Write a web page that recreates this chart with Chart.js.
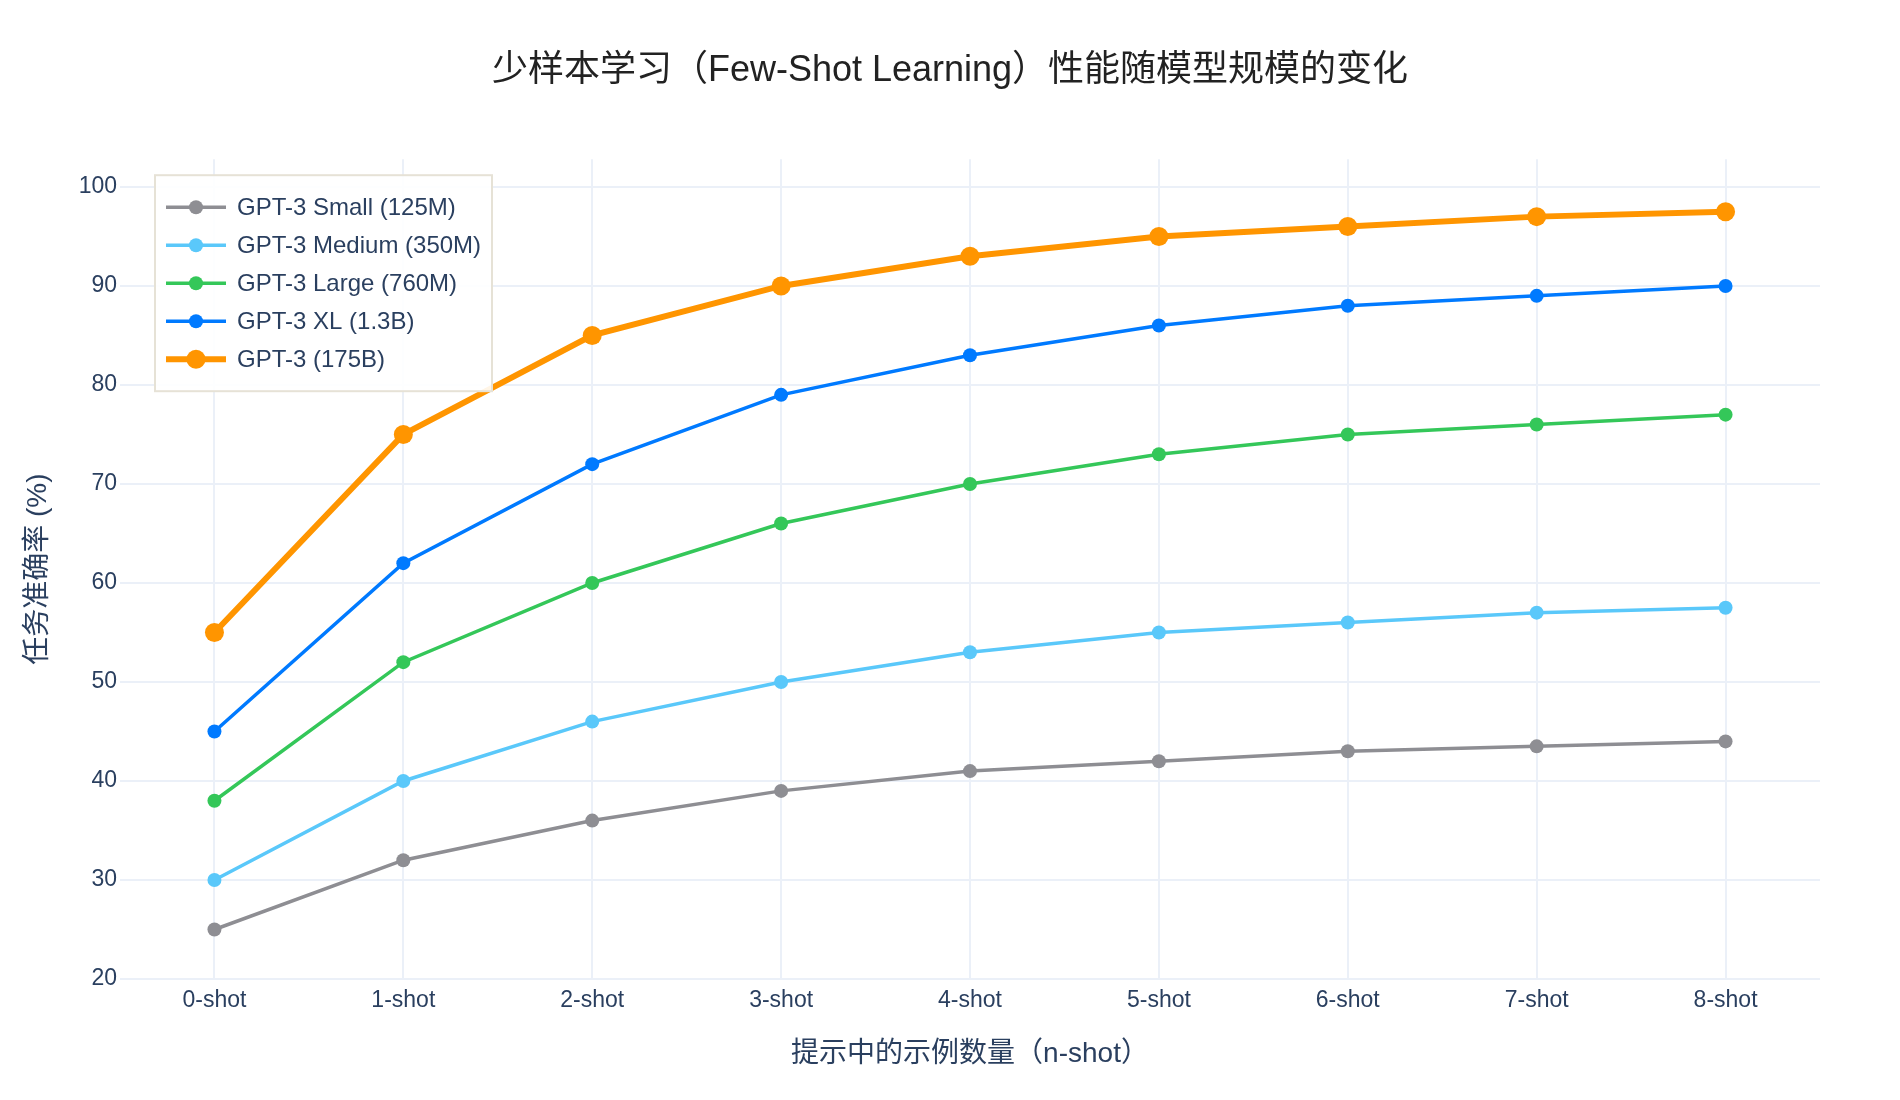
<!DOCTYPE html>
<html>
<head>
<meta charset="utf-8">
<script src="https://cdn.jsdelivr.net/npm/chart.js@4.4.1/dist/chart.umd.min.js"></script>
<style>
  html, body { margin: 0; padding: 0; background: #fff; }
  #wrap { width: 1900px; height: 1100px; }
</style>
</head>
<body>
<div id="wrap"><canvas id="chart"></canvas></div>
<script>
// Données
const shotLabels = ['0-shot', '1-shot', '2-shot', '3-shot', '4-shot', '5-shot', '6-shot', '7-shot', '8-shot'];
const smallValues  = [25, 32, 36, 39, 41, 42, 43, 43.5, 44];
const mediumValues = [30, 40, 46, 50, 53, 55, 56, 57, 57.5];
const largeValues  = [38, 52, 60, 66, 70, 73, 75, 76, 77];
const xlValues     = [45, 62, 72, 79, 83, 86, 88, 89, 90];
const gpt3Values   = [55, 75, 85, 90, 93, 95, 96, 97, 97.5];
const seriesNames  = ['GPT-3 Small (125M)', 'GPT-3 Medium (350M)', 'GPT-3 Large (760M)', 'GPT-3 XL (1.3B)', 'GPT-3 (175B)'];
const yTicksMin = 20;
const yTicksMax = 102.8;

const FONT = "Arial, 'Liberation Sans', 'Noto Sans CJK SC', sans-serif";
const TEXT_COLOR = '#2a3f5f';
const GRID_COLOR = '#EBF0F8';

function serie(label, data, color, big) {
    return {
        label: label,
        data: data,
        borderColor: color,
        backgroundColor: color,
        pointBackgroundColor: color,
        pointBorderWidth: 0,
        borderWidth: big ? 6 : 3.5,
        pointRadius: big ? 9.5 : 7,
        pointHoverRadius: big ? 9.5 : 7,
        tension: 0,
        fill: false
    };
}

//Légende dans la zone du graphique, avec cadre
const boxLegend = {
    id: 'boxLegend',
    afterDraw(chart) {
        const ctx = chart.ctx;
        const x0 = chart.chartArea.left + 35;
        const y0 = chart.chartArea.top + 16;
        const w = 337, h = 216, rowH = 38;
        ctx.save();
        ctx.fillStyle = 'rgba(255,255,255,0.9)';
        ctx.fillRect(x0, y0, w, h);
        ctx.strokeStyle = '#E6E2D6';
        ctx.lineWidth = 2;
        ctx.strokeRect(x0, y0, w, h);
        chart.data.datasets.forEach((ds, i) => {
            const y = y0 + 32 + i * rowH;
            ctx.strokeStyle = ds.borderColor;
            ctx.lineWidth = ds.borderWidth;
            ctx.beginPath();
            ctx.moveTo(x0 + 11, y);
            ctx.lineTo(x0 + 71, y);
            ctx.stroke();
            ctx.fillStyle = ds.borderColor;
            ctx.beginPath();
            ctx.arc(x0 + 41, y, ds.pointRadius, 0, Math.PI * 2);
            ctx.fill();
            ctx.fillStyle = TEXT_COLOR;
            ctx.font = '24px ' + FONT;
            ctx.textBaseline = 'middle';
            ctx.textAlign = 'left';
            ctx.fillText(ds.label, x0 + 82, y + 1);
        });
        ctx.restore();
    }
};

const ctx = document.getElementById('chart').getContext('2d');
const chart = new Chart(ctx, {
    type: 'line',
    data: {
        labels: shotLabels,
        datasets: [
            serie(seriesNames[0], smallValues, '#8E8E93', false),
            serie(seriesNames[1], mediumValues, '#5AC8FA', false),
            serie(seriesNames[2], largeValues, '#34C759', false),
            serie(seriesNames[3], xlValues, '#007AFF', false),
            serie(seriesNames[4], gpt3Values, '#FF9500', true)
        ]
    },
    options: {
        responsive: true,
        maintainAspectRatio: false,
        animation: false,
        layout: { padding: 0 },
        plugins: {
            legend: { display: false },
            tooltip: { enabled: false },
            title: {
                display: true,
                text: '少样本学习（Few-Shot Learning）性能随模型规模的变化',
                color: '#222',
                font: { family: FONT, size: 36, weight: 'normal' },
                padding: { top: 49, bottom: 67 }
            }
        },
        scales: {
            x: {
                offset: true,
                grid: { color: GRID_COLOR, lineWidth: 2, drawTicks: false, offset: false },
                border: { display: false },
                ticks: { color: TEXT_COLOR, font: { family: FONT, size: 23 }, padding: 8, maxRotation: 0 },
                title: {
                    display: true,
                    text: '提示中的示例数量（n-shot）',
                    color: TEXT_COLOR,
                    font: { family: FONT, size: 28 },
                    padding: { top: 0, bottom: 29 }
                },
                afterFit(scale) { scale.height = 121; }
            },
            y: {
                min: yTicksMin,
                max: yTicksMax,
                grid: { color: GRID_COLOR, lineWidth: 2, drawTicks: false },
                border: { display: false },
                ticks: { stepSize: 10, includeBounds: false, color: TEXT_COLOR, font: { family: FONT, size: 23 }, padding: 3 },
                title: {
                    display: true,
                    text: '任务准确率 (%)',
                    color: TEXT_COLOR,
                    font: { family: FONT, size: 28 },
                    padding: { top: 21, bottom: 0 }
                },
                afterFit(scale) { scale.width = 120; }
            },
            //marge droite (axe vide)
            yRight: {
                position: 'right',
                display: true,
                min: yTicksMin,
                max: yTicksMax,
                grid: { display: false, drawTicks: false },
                border: { display: false },
                ticks: { display: false },
                afterFit(scale) { scale.width = 80; }
            }
        }
    },
    plugins: [boxLegend]
});
</script>
</body>
</html>
